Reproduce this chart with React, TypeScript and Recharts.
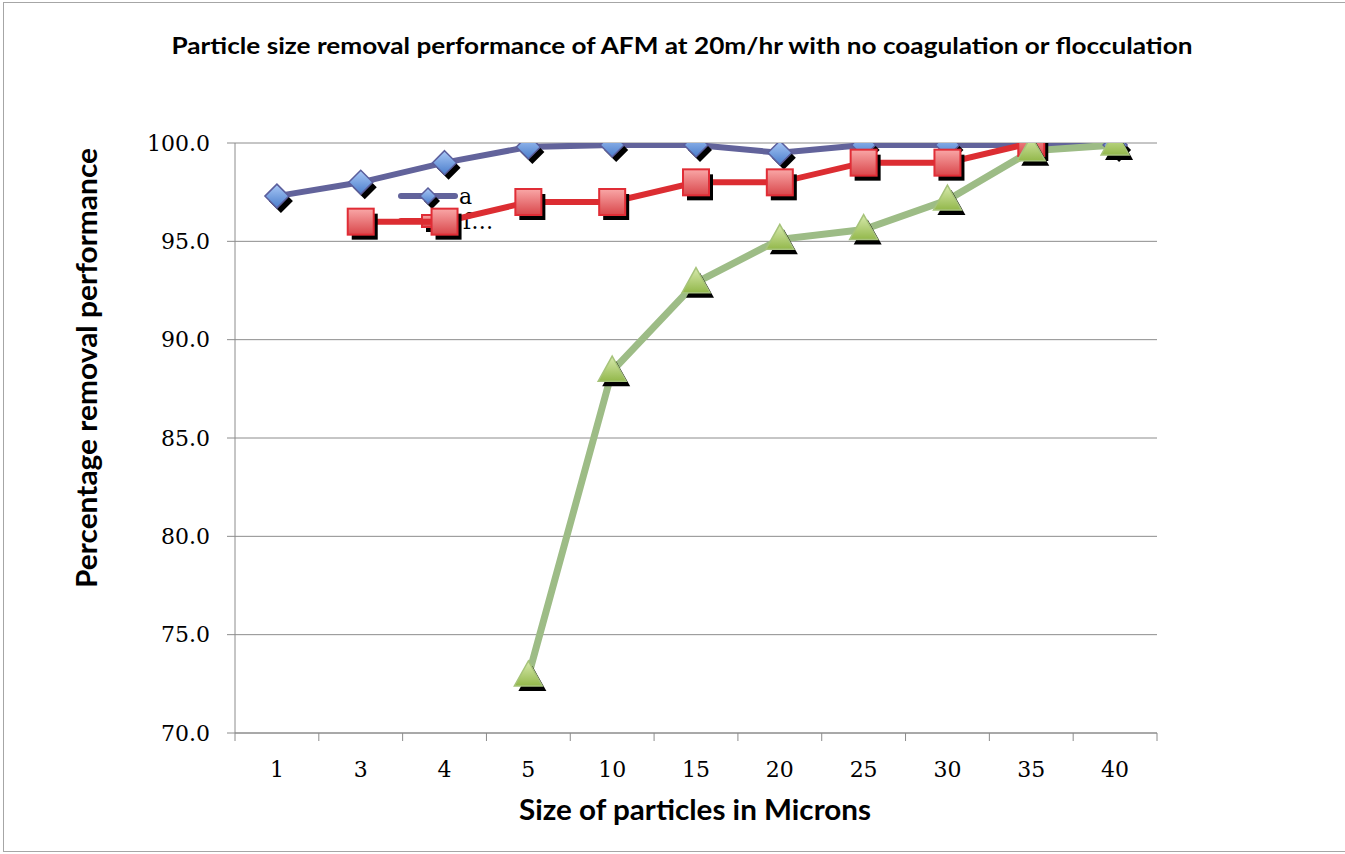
import { CartesianGrid, Legend, Line, LineChart, XAxis, YAxis } from "recharts";

// particle sizes (microns) on the x axis
const sizes = ["1", "3", "4", "5", "10", "15", "20", "25", "30", "35", "40"];
const seriesA = [97.3, 98.0, 99.0, 99.8, 99.9, 99.9, 99.5, 99.9, 99.9, 99.9, 99.9];
const seriesF = [null, 96.0, 96.0, 97.0, 97.0, 98.0, 98.0, 99.0, 99.0, 100.0, null];
const seriesG = [null, null, null, 72.9, 88.4, 92.9, 95.1, 95.6, 97.1, 99.6, 99.9];
const yTicks = [70, 75, 80, 85, 90, 95, 100];
const seriesNames = ["a", "f\u2026", "g"];

const data = sizes.map((size, i) => ({
    size,
    a: seriesA[i],
    f: seriesF[i],
    g: seriesG[i],
}));

const CW = 1345;
const CH = 854;
const MARGIN = { top: 143, right: 188, left: 0, bottom: 0 };
const Y_AXIS_W = 235;
const X_AXIS_H = 121;
const AXIS_Y = CH - X_AXIS_H - MARGIN.bottom;
const BAND = (CW - MARGIN.left - MARGIN.right - Y_AXIS_W) / sizes.length;
const GRID = "#8c8c8c";
const SERIF = "'DejaVu Serif', serif";
const SANS = "Lato, 'Open Sans', sans-serif";

const Diamond = ({ cx, cy, s = 12 }: any) => {
    const pts = (dx: number, dy: number) =>
        `${cx + dx},${cy + dy - s} ${cx + dx + s},${cy + dy} ${cx + dx},${cy + dy + s} ${cx + dx - s},${cy + dy}`;
    return (
        <g>
            <polygon points={pts(4, 5)} fill="#000" />
            <polygon points={pts(0, 0)} fill="url(#gradBlue)" stroke="#5b5e9c" strokeWidth={1.5} />
        </g>
    );
};

const Square = ({ cx, cy, s = 13 }: any) => (
    <g>
        <rect x={cx - s + 4} y={cy - s + 5} width={s * 2} height={s * 2} fill="#000" />
        <rect x={cx - s} y={cy - s} width={s * 2} height={s * 2} fill="url(#gradRed)" stroke="#e02d36" strokeWidth={2} />
    </g>
);

const Triangle = ({ cx, cy }: any) => {
    const pts = (dx: number, dy: number) =>
        `${cx + dx},${cy + dy - 15} ${cx + dx + 14},${cy + dy + 10} ${cx + dx - 14},${cy + dy + 10}`;
    return (
        <g>
            <polygon points={pts(4, 5)} fill="#000" />
            <polygon points={pts(0, 0)} fill="url(#gradGreen)" stroke="#a6c37a" strokeWidth={1.5} />
        </g>
    );
};

const dotOf = (Shape: any) => (props: any) => {
    const { cx, cy, index, value } = props;
    if (cx == null || cy == null || value == null) return <g key={`e-${index}`} />;
    return <Shape key={`d-${index}`} cx={cx} cy={cy} />;
};

const XTick = (props: any) => {
    const { x, payload, index } = props;
    const half = BAND / 2;
    return (
        <g>
            <line x1={x - half} x2={x - half} y1={AXIS_Y} y2={AXIS_Y + 8} stroke={GRID} />
            {index === sizes.length - 1 && (
                <line x1={x + half} x2={x + half} y1={AXIS_Y} y2={AXIS_Y + 8} stroke={GRID} />
            )}
            <text x={x} y={AXIS_Y + 44} textAnchor="middle" fontFamily={SERIF} fontSize={22} fill="#000">
                {payload.value}
            </text>
        </g>
    );
};

// legend box is too small in the original, only two entries show
const LegendBox = (props: any) => {
    const items = (props.payload || []).slice(0, 2);
    const shapes = [Diamond, Square];
    const colors = ["#62639b", "#dc2d32"];
    return (
        <div>
            {items.map((it: any, i: number) => {
                const Shape = shapes[i];
                return (
                    <div key={it.value} style={{ display: "flex", alignItems: "center", height: 25 }}>
                        <svg width={62} height={25}>
                            <line x1={4} x2={58} y1={12} y2={12} stroke={colors[i]} strokeWidth={6} strokeLinecap="round" />
                            <Shape cx={31} cy={12} s={i === 0 ? 8 : 6} />
                        </svg>
                        <span style={{ fontFamily: SERIF, fontSize: 22, color: "#000", lineHeight: "25px", marginLeft: i === 1 ? 4 : 0 }}>
                            {it.value}
                        </span>
                    </div>
                );
            })}
        </div>
    );
};

export default function App() {
    return (
        <div style={{ position: "absolute", left: 0, top: 0, width: CW, height: CH }}>
            <div
                style={{
                    position: "absolute",
                    left: 3,
                    top: 2,
                    width: CW,
                    height: CH - 4,
                    borderLeft: "1px solid #a6a6a6",
                    borderTop: "1px solid #a6a6a6",
                    borderBottom: "1px solid #a6a6a6",
                    boxSizing: "border-box",
                }}
            />
            <LineChart width={CW} height={CH} data={data} margin={MARGIN}>
                <defs>
                    <linearGradient id="gradBlue" x1="0" x2="0" y1="0" y2="1">
                        <stop offset="0%" stopColor="#a9c8f6" />
                        <stop offset="100%" stopColor="#4a7dcb" />
                    </linearGradient>
                    <linearGradient id="gradRed" x1="0" x2="0" y1="0" y2="1">
                        <stop offset="0%" stopColor="#f9a7a7" />
                        <stop offset="100%" stopColor="#d9474b" />
                    </linearGradient>
                    <linearGradient id="gradGreen" x1="0" x2="0" y1="0" y2="1">
                        <stop offset="0%" stopColor="#d8eaae" />
                        <stop offset="100%" stopColor="#93b84b" />
                    </linearGradient>
                </defs>
                <text x={682} y={54} textAnchor="middle" fontFamily={SANS} fontWeight={700} fontSize={22} textLength={1021} lengthAdjust="spacingAndGlyphs" fill="#000">
                    Particle size removal performance of AFM at 20m/hr with no coagulation or flocculation
                </text>
                <text x={695} y={820} textAnchor="middle" fontFamily={SANS} fontWeight={700} fontSize={28} textLength={352} lengthAdjust="spacingAndGlyphs" fill="#000">
                    Size of particles in Microns
                </text>
                <text x={97} y={368} transform="rotate(-90, 97, 368)" textAnchor="middle" fontFamily={SANS} fontWeight={700} fontSize={28} textLength={440} lengthAdjust="spacingAndGlyphs" fill="#000">
                    Percentage removal performance
                </text>
                <CartesianGrid stroke={GRID} vertical={false} />
                <XAxis
                    dataKey="size"
                    scale="band"
                    interval={0}
                    height={X_AXIS_H}
                    tickLine={false}
                    axisLine={{ stroke: GRID }}
                    tick={<XTick />}
                />
                <YAxis
                    width={Y_AXIS_W}
                    domain={[70, 100]}
                    ticks={yTicks}
                    allowDataOverflow
                    tickFormatter={(v: number) => v.toFixed(1)}
                    tickSize={8}
                    tickMargin={17}
                    tickLine={{ stroke: GRID }}
                    axisLine={{ stroke: GRID }}
                    tick={{ fill: "#000", fontSize: 22, fontFamily: SERIF }}
                />
                <Legend
                    layout="vertical"
                    align="center"
                    verticalAlign="middle"
                    content={<LegendBox />}
                    wrapperStyle={{ left: 397, top: 184, width: 120, zIndex: -1 }}
                />
                <Line
                    name={seriesNames[0]}
                    dataKey="a"
                    stroke="#62639b"
                    strokeWidth={6}
                    dot={dotOf(Diamond)}
                    activeDot={false}
                    isAnimationActive={false}
                />
                <Line
                    name={seriesNames[1]}
                    dataKey="f"
                    stroke="#dc2d32"
                    strokeWidth={6}
                    dot={dotOf(Square)}
                    activeDot={false}
                    isAnimationActive={false}
                />
                <Line
                    name={seriesNames[2]}
                    dataKey="g"
                    stroke="#9dbc86"
                    strokeWidth={7}
                    dot={dotOf(Triangle)}
                    activeDot={false}
                    isAnimationActive={false}
                />
            </LineChart>
        </div>
    );
}
